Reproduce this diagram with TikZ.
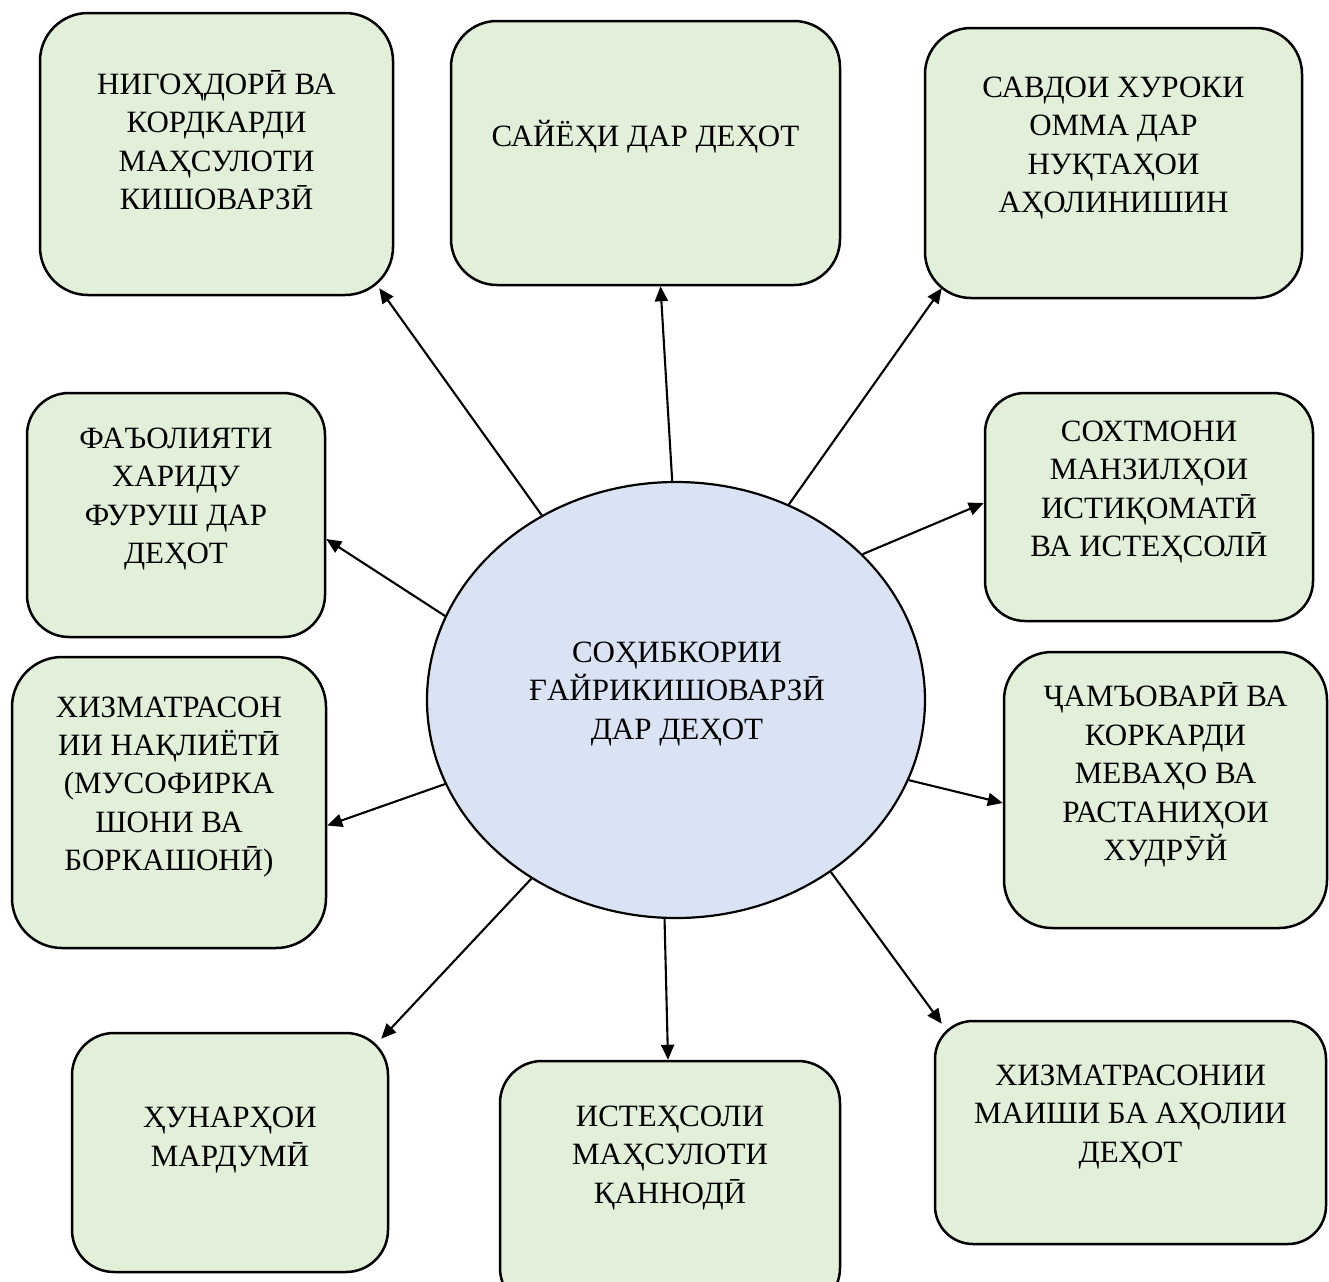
\documentclass[tikz,border=0pt]{standalone}
\usepackage{fontspec}
\setmainfont{Liberation Serif}
\usetikzlibrary{arrows.meta,shapes.geometric,calc}
\definecolor{boxfill}{HTML}{E2EFD9}
\definecolor{ellfill}{HTML}{DAE3F3}
\tikzset{
  box/.style={draw=black, line width=1.25pt, fill=boxfill, rectangle, inner sep=0pt},
  hub/.style={draw=black, line width=1.1pt, fill=ellfill, ellipse, inner sep=0pt},
  lbl/.style={align=center, inner sep=0pt, font=\fontsize{15.5pt}{19.2pt}\selectfont},
  conn/.style={line width=1.05pt, -{Triangle[length=7.5pt,width=6.5pt]}}
}
\begin{document}
\begin{tikzpicture}[x=0.5pt,y=-0.5pt]
\useasboundingbox (0,0) rectangle (1329,1281);
\clip (0,0) rectangle (1329,1281);
% boxes
\node[box, rounded corners=24pt, minimum width=176.5pt, minimum height=141pt] (b1) at (216.5,154) {};
\node[box, rounded corners=23pt, minimum width=194.5pt, minimum height=132pt] (b2) at (645.5,153) {};
\node[box, rounded corners=23pt, minimum width=188.5pt, minimum height=135pt] (b3) at (1113.5,163) {};
\node[box, rounded corners=21pt, minimum width=149pt, minimum height=122pt] (b4) at (176,515) {};
\node[box, rounded corners=25pt, minimum width=157pt, minimum height=145.5pt] (b5) at (169,802.5) {};
\node[box, rounded corners=20pt, minimum width=164pt, minimum height=114pt] (b6) at (1149,507) {};
\node[box, rounded corners=24pt, minimum width=161.5pt, minimum height=138pt] (b7) at (1165.5,790) {};
\node[box, rounded corners=21pt, minimum width=158pt, minimum height=119.5pt] (b8) at (230,1152.5) {};
\node[box, rounded corners=21pt, minimum width=170pt, minimum height=124.5pt] (b9) at (670,1185.5) {};
\node[box, rounded corners=19pt, minimum width=195.5pt, minimum height=111.5pt] (b10) at (1130.5,1132.5) {};
% hub
\node[hub, minimum width=249pt, minimum height=218pt] (c) at (676,700) {};
% labels
\node[lbl] (t0) at (677,694) {СОҲИБКОРИИ\\ҒАЙРИКИШОВАРЗӢ\\ДАР ДЕҲОТ};
\node[lbl] (t1) at (216.5,140) {НИГОҲДОРӢ ВА\\КОРДКАРДИ\\МАҲСУЛОТИ\\КИШОВАРЗӢ};
\node[lbl] (t2) at (645.5,137) {САЙЁҲИ ДАР ДЕҲОТ};
\node[lbl] (t3) at (1113.5,148) {САВДОИ ХУРОКИ\\ОММА ДАР\\НУҚТАҲОИ\\АҲОЛИНИШИН};
\node[lbl] (t4) at (176,499) {ФАЪОЛИЯТИ\\ХАРИДУ\\ФУРУШ ДАР\\ДЕҲОТ};
\node[lbl] (t5) at (169,787) {ХИЗМАТРАСОН\\ИИ НАҚЛИЁТӢ\\(МУСОФИРКА\\ШОНИ ВА\\БОРКАШОНӢ)};
\node[lbl] (t6) at (1149,492) {СОХТМОНИ\\МАНЗИЛҲОИ\\ИСТИҚОМАТӢ\\ВА ИСТЕҲСОЛӢ};
\node[lbl] (t7) at (1165.5,775) {ҶАМЪОВАРӢ ВА\\КОРКАРДИ\\МЕВАҲО ВА\\РАСТАНИҲОИ\\ХУДРӮЙ};
\node[lbl] (t8) at (230,1140) {ҲУНАРҲОИ\\МАРДУМӢ};
\node[lbl] (t9) at (670,1158) {ИСТЕҲСОЛИ\\МАҲСУЛОТИ\\ҚАННОДӢ};
\node[lbl] (t10) at (1130.5,1117) {ХИЗМАТРАСОНИИ\\МАИШИ БА АҲОЛИИ\\ДЕҲОТ};
% connectors
\draw[conn] (c.126.7) -- ($(b1.south east)+(-15,-8)$);
\draw[conn] (c.91.8) -- ($(b2.south)+(15,0)$);
\draw[conn] (c.60.8) -- ($(b3.south west)+(18,-11)$);
\draw[conn] (c.160.1) -- ($(b4.east)+(0,24)$);
\draw[conn] (c.200.3) -- ($(b5.east)+(0,23)$);
\draw[conn] (c.38.4) -- ($(b6.west)+(0,-4)$);
\draw[conn] (c.341.3) -- ($(b7.west)+(0,13)$);
\draw[conn] (c.231.2) -- ($(b8.north east)+(-8,7)$);
\draw[conn] (c.267.9) -- ($(b9.north)+(-2,0)$);
\draw[conn] (c.312.4) -- ($(b10.north west)+(8,4)$);
\end{tikzpicture}
\end{document}
